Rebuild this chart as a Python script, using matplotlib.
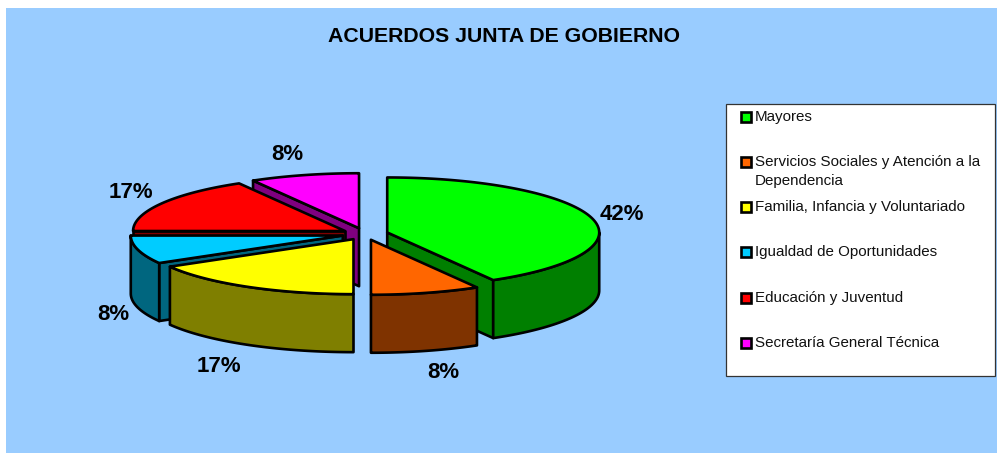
import numpy as np
import matplotlib
matplotlib.use('Agg')
import matplotlib.pyplot as plt
from matplotlib.patches import Polygon, Rectangle

plt.rcParams['font.family'] = ['Liberation Sans', 'DejaVu Sans']

title = 'ACUERDOS JUNTA DE GOBIERNO'
categories = ['Mayores',
              'Servicios Sociales y Atención a la\nDependencia',
              'Familia, Infancia y Voluntariado',
              'Igualdad de Oportunidades',
              'Educación y Juventud',
              'Secretaría General Técnica']
values = [5, 1, 2, 1, 2, 1]
percent_labels = ['42%', '8%', '17%', '8%', '17%', '8%']
top_colors = ['#00FF00', '#FF6600', '#FFFF00', '#00CCFF', '#FF0000', '#FF00FF']
side_colors = ['#007F00', '#7F3300', '#7F7F00', '#00667F', '#7F0000', '#7F007F']

# pie geometry in pixels
cx, cy = 365, 234
rx, ry = 212, 55
depth = 58
explode = 23

# where the percent labels sit
label_pos = [(622, 215), (443, 373), (219, 366), (113, 314), (131, 192), (287, 154)]
legend_y = [117, 162, 207, 252, 298, 343]

fig = plt.figure(figsize=(9.97, 4.53), dpi=100, facecolor='white')
ax = fig.add_axes([0, 0, 1, 1])
ax.set_xlim(0, 997)
ax.set_ylim(453, 0)
ax.axis('off')

ax.add_patch(Rectangle((6, 8), 991, 445, facecolor='#99CCFF', edgecolor='none', zorder=0))


def rim(x0, y0, t):
    # t in degrees, clockwise from 12 o'clock
    r = np.radians(t)
    return np.column_stack([x0 + rx * np.sin(r), y0 - ry * np.cos(r)])


total = sum(values)
edges = np.cumsum([0] + values) / total * 360
slices = []
for i in range(len(values)):
    a, b = edges[i], edges[i + 1]
    mid = np.radians((a + b) / 2)
    x0 = cx + explode * np.sin(mid)
    y0 = cy - explode * ry / rx * np.cos(mid)
    slices.append((-np.cos(mid), i, a, b, x0, y0))

z = 2
down = np.array([0, depth])
for _, i, a, b, x0, y0 in sorted(slices):
    style = dict(edgecolor='black', linewidth=1.9, joinstyle='round')
    apex = np.array([[x0, y0]])
    # cut faces that look towards the viewer
    for t, visible in ((a, np.sin(np.radians(a)) < -1e-6), (b, np.sin(np.radians(b)) > 1e-6)):
        if visible:
            p = rim(x0, y0, t)
            ax.add_patch(Polygon(np.vstack([apex, p, p + down, apex + down]),
                                 facecolor=side_colors[i], zorder=z, **style))
    # outer wall, front half only
    lo, hi = max(a, 90), min(b, 270)
    if hi > lo:
        arc = rim(x0, y0, np.linspace(lo, hi, 80))
        ax.add_patch(Polygon(np.vstack([arc, (arc + down)[::-1]]),
                             facecolor=side_colors[i], zorder=z, **style))
    arc = rim(x0, y0, np.linspace(a, b, 160))
    ax.add_patch(Polygon(np.vstack([apex, arc]), facecolor=top_colors[i], zorder=z, **style))
    z += 1

for lab, (x, y) in zip(percent_labels, label_pos):
    ax.text(x, y, lab, fontsize=16, fontweight='bold', ha='center', va='center', color='black', zorder=20)

ax.text(504, 36, title, fontsize=15.3, fontweight='bold', ha='center', va='center', color='black')

# legend
ax.add_patch(Rectangle((726, 104), 269, 272, facecolor='white', edgecolor='#333333', linewidth=0.9, zorder=20))
for name, col, y in zip(categories, top_colors, legend_y):
    ax.add_patch(Rectangle((741, y - 5), 10, 10, facecolor=col, edgecolor='black', linewidth=1.9, zorder=21))
    ax.text(755, y - 7, name, fontsize=10.9, ha='left', va='top', color='#111111', linespacing=1.45, zorder=21)

fig.savefig('out.png', dpi=100, facecolor='white')
